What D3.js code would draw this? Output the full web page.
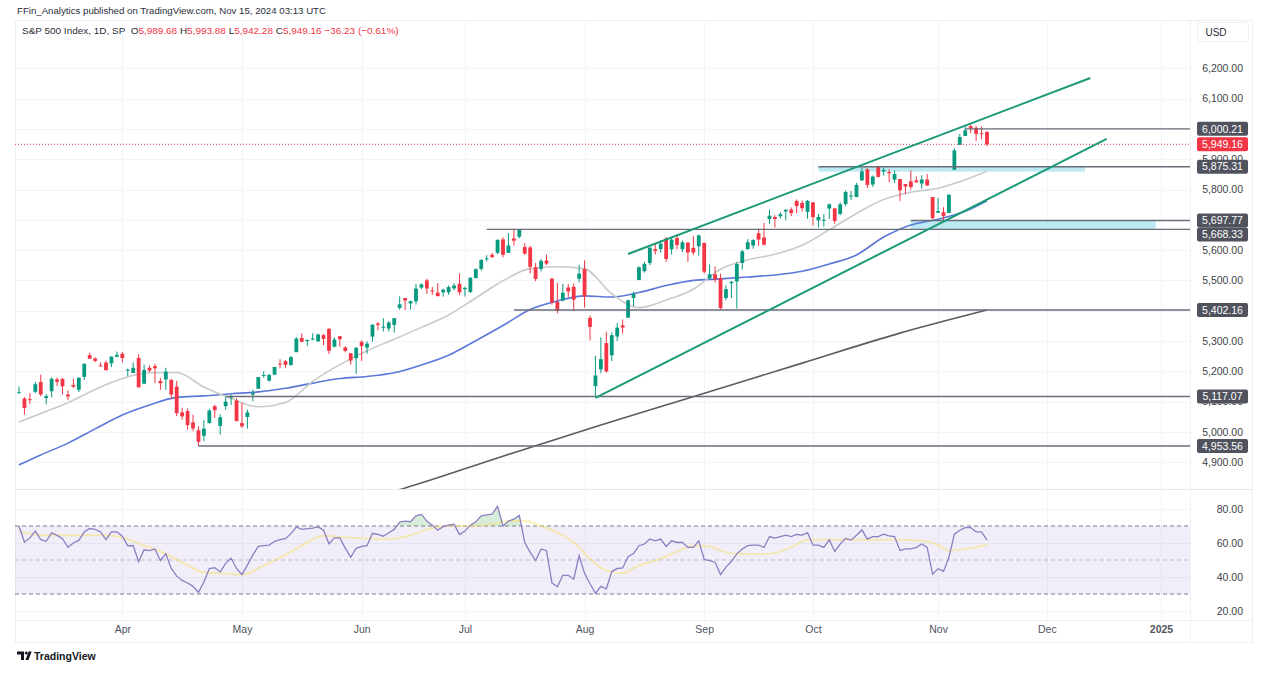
<!DOCTYPE html>
<html><head><meta charset="utf-8">
<script src="https://cdn.jsdelivr.net/npm/d3@7"></script>
<style>
html,body{margin:0;padding:0;background:#fff;}
svg{display:block;font-family:"Liberation Sans","Arial",sans-serif;}
</style></head><body>
<svg id="c" width="1280" height="689"></svg>
<script>
// ---------------- DATA ----------------
const firstDate = "2024-03-04";
const holidays = ["2024-03-29","2024-05-27","2024-06-19","2024-07-04","2024-09-02","2024-11-28","2024-12-25","2025-01-01"];
const monthLabels = ["Apr","May","Jun","Jul","Aug","Sep","Oct","Nov","Dec","2025"];
const monthDates = ["2024-04-01","2024-05-01","2024-06-03","2024-07-01","2024-08-01","2024-09-03","2024-10-01","2024-11-01","2024-12-02","2025-01-02"];
const gridTicks = [4900,5000,5100,5200,5300,5400,5500,5600,5700,5800,5900,6000,6100,6200];
const priceTickLabels = [4900,5000,5100,5200,5300,5500,5600,5800,5900,6100,6200];
const rsiTicks = [20,40,60,80];

const open = [
5131,5110.5,5108,5132.4,5164.5,5112,5134.3,5173.5,5175.1,5123.3,5154.8,5139.1,5181.7,5253.4,5242.5,5219.5,5228.9,5226.3,5248,
5258,5204.3,5194.4,5244,5159,5211.4,5217,5167.9,5173,5171.5,5149.7,5064.6,5069,5031.5,5005.4,4987.3,5028.9,5084.7,5019.9,5084.7,5114.1,5103.8,
5029,5049.3,5122.8,5142.4,5187.2,5169,5189,5225.5,5233.1,5221.1,5263.3,5310.1,5303.1,5305.4,5298.7,5319.3,5340.3,5281.5,5315.9,5278.7,5259.8,5243.2,
5297.2,5278.2,5314.5,5357.8,5343.8,5341.2,5353,5409.1,5441.9,5424.1,5431.1,5476.2,5500,5466.8,5459.6,5460.7,5460.7,5473.6,5488.5,
5471.1,5461.8,5507.4,5537.9,5572.8,5584.2,5591.3,5635.2,5590.8,5638.2,5644.1,5610.1,5608.6,5543.4,5537.8,5565.3,5505.8,5428.7,5433.7,5476.6,5478.7,5505.6,
5537.8,5376.6,5151.1,5206.4,5293.1,5252.6,5314.7,5351.9,5377,5442.1,5501.1,5530.5,5557.2,5602.9,5603.1,5637.8,5602.9,5639.7,5602.9,5624.5,5607.3,5612.7,
5623.9,5506.7,5520.1,5507.3,5442.1,5490.5,5496.4,5557.5,5603.3,5615.2,5655.5,5641.7,5702.6,5709.2,5711.9,5727.5,5733.7,5762.2,5755.4,5726.5,
5757.7,5698.2,5698.8,5737.2,5737.8,5719.1,5751.8,5778.4,5775.1,5829.8,5866.7,5816.6,5875.6,5859.4,5857.8,5832.7,5834.5,5817.8,5826.8,5830.2,5819.7,5832.7,5775.3,
5723.2,5725.2,5722.4,5864.9,5947.2,5976.8,6008.9,6003.6,5985.8,5989.7];
const high = [
5149.7,5114.5,5128,5165.6,5189.3,5124.7,5179.9,5179.1,5176.9,5136.9,5175.6,5180.3,5226.2,5261.1,5246.1,5229.1,5235.2,5249.3,5264.9,
5264,5208.3,5228.8,5256.6,5222.2,5219.6,5224.8,5178.4,5211.8,5175,5168.4,5079.8,5078,5056.7,5019,5038.8,5076.1,5089.5,5057.8,5114.6,5123.5,5110.8,
5096.1,5073.2,5139.1,5181,5200.2,5192,5214.5,5239.7,5237.3,5250.4,5311.8,5325.5,5305.5,5325.3,5324.3,5323.2,5341.9,5311.7,5315.9,5282.3,5260.2,5280.3,
5302.1,5298.8,5354.2,5362.4,5375.1,5365.8,5376,5447.3,5441.9,5432.4,5488.5,5490.4,5505.5,5478.3,5490.7,5472.9,5483.1,5490.8,5523.6,
5479.6,5509.7,5539.3,5570.3,5583.1,5590.8,5635.4,5642.5,5655.6,5666.9,5669.7,5622.5,5614.1,5557.5,5570.4,5585.3,5508,5491.6,5488.3,5487.7,5489.5,5551.5,
5566.2,5383.9,5250.9,5312.3,5330.6,5328,5358.7,5371.2,5436.5,5463.2,5546.2,5562,5608.3,5620.5,5632.7,5643.2,5641.8,5651.6,5631.2,5627,5647,5651.4,
5623.9,5553,5546.3,5522.5,5484.2,5497.9,5560.4,5600.7,5636.3,5636,5670.8,5689.8,5733.6,5715.1,5725.4,5735.3,5741,5767.4,5763.8,5765.1,
5757.7,5719.1,5718.8,5753.4,5739.3,5757.6,5796.8,5795,5822.1,5871.4,5870.4,5846.5,5878.5,5872.2,5866.9,5863,5834.9,5817.8,5862.8,5842.9,5847.2,5850.9,5775.3,
5772.5,5741.4,5783.4,5936.1,5983.8,6012.5,6017.3,6009.9,6008.2,5993.9];
const low = [
5127.2,5056.8,5092.2,5128.2,5117.5,5091.1,5114.5,5151.9,5123.3,5104.4,5145.5,5131.6,5171.6,5240.7,5229.9,5216.1,5203.4,5213.9,5245.8,
5229.2,5184,5194.4,5146.1,5157.2,5197.4,5160.8,5138.7,5138.8,5107.9,5052.5,5039.8,5007.3,5001.9,4953.6,4969.4,5028,5047,4990.6,5073.1,5088.7,5035.3,
5013.5,5011.1,5101.2,5142.4,5179,5165.9,5187.2,5209.7,5211.2,5218,5263.3,5296.2,5283.6,5302.4,5297.9,5286,5256.9,5278.4,5280.9,5262.7,5222.1,5191.7,
5234.3,5257.6,5297.6,5335.4,5331.3,5331.5,5327.3,5403.4,5402.5,5403.8,5420.4,5471.3,5455.6,5452,5447.6,5446.6,5451.9,5467.5,5451.1,
5446.5,5458.4,5507.4,5531.6,5562.5,5574.6,5586.4,5576.5,5590.4,5614.8,5639,5584.8,5522.8,5497,5529,5550.9,5420,5391,5430.7,5444.4,5398.4,5493.8,
5410.4,5302,5119.3,5193.6,5195.5,5233.9,5300,5324.4,5377,5415.1,5501.1,5525.2,5550.7,5585.5,5591.6,5561,5585.2,5602.3,5593.5,5561,5583.7,5581.8,
5521.9,5503.7,5493.3,5402.6,5434.5,5441.7,5407,5535.5,5601.7,5604.5,5614.1,5615.1,5686.4,5674.5,5704.2,5699,5712.1,5721,5727.3,5703.5,
5681.3,5674,5677.4,5702.8,5686.9,5714.6,5745,5764.8,5775.1,5829.8,5804.5,5808.3,5840.3,5846.1,5824.5,5821.2,5762.4,5784.9,5800,5823.1,5802.4,5811.3,5702.9,
5723.2,5696.5,5722.1,5864.9,5947.2,5976.8,5986.7,5960.1,5965.9,5942.3];
const close = [
5131,5078.7,5104.8,5157.4,5123.7,5117.9,5175.3,5165.3,5150.5,5117.1,5149.4,5178.5,5224.6,5241.5,5234.2,5218.2,5203.6,5248.5,5254.4,
5243.8,5205.8,5211.5,5147.2,5204.3,5202.4,5209.9,5160.6,5199.1,5123.4,5061.8,5051.4,5022.2,5011.1,4967.2,5010.6,5070.6,5071.6,5048.4,5100,5116.2,5035.7,
5018.4,5064.2,5127.8,5180.7,5187.7,5187.7,5214.1,5222.7,5221.4,5246.7,5308.2,5297.1,5303.3,5308.1,5321.4,5307,5267.8,5304.7,5306,5267,5235.5,5277.5,
5283.4,5291.3,5354,5353,5347,5360.8,5375.3,5421,5433.7,5431.6,5473.2,5487,5473.2,5464.6,5447.9,5469.3,5477.9,5482.9,5460.5,
5475.1,5509,5537,5567.2,5572.9,5577,5633.9,5584.5,5615.4,5631.2,5667.2,5588.3,5544.6,5505,5564.4,5555.7,5427.1,5399.2,5459.1,5463.5,5436.4,5522.3,
5446.7,5346.6,5186.3,5240,5199.5,5319.3,5344.2,5344.4,5434.4,5455.2,5543.2,5554.3,5608.3,5597.1,5620.9,5570.6,5634.6,5616.8,5625.8,5592.2,5592,5648.4,
5528.9,5520.1,5503.4,5408.4,5471.1,5495.5,5554.1,5595.8,5626,5633.1,5634.6,5618.3,5713.6,5702.6,5718.6,5732.9,5722.3,5745.4,5738.2,5762.5,
5708.8,5709.5,5699.9,5751.1,5695.9,5751.1,5792,5780.1,5815,5859.9,5815.3,5842.5,5841.5,5864.7,5854,5851.2,5797.4,5809.9,5808.1,5823.5,5832.9,5813.7,5705.5,
5728.8,5712.7,5782.8,5929,5973.1,5995.5,6001.4,5984,5985.4,5949.2];

// moving averages (bar index, value)
const ma20Idx = [0,4,9,14,19,24,29,34,39,44,49,54,59,64,69,74,79,84,89,94,99,104,109,114,119,124,129,134,139,144,149,154,159,164,169,174,178];
const ma20Val = [5032,5061,5096,5140,5176,5195,5196,5148,5110,5083,5097,5167,5222,5268,5306,5345,5386,5442,5499,5539,5545,5538,5456,5410,5435,5471,5537,5568,5586,5616,5667,5721,5767,5791,5804,5832,5860];
const ma50Idx = ma20Idx;
const ma50Val = [4891,4924,4963,5010,5056,5089,5114,5119,5126,5132,5144,5161,5176,5183,5195,5221,5253,5301,5351,5404,5432,5449,5445,5460,5483,5500,5505,5511,5518,5530,5554,5584,5643,5683,5702,5728,5763];
const ma200Idx = [55,71,88,107,122,144,162,178];
const ma200Val = [4740,4815,4914,5023,5105,5227,5326,5402];

// RSI(14) per bar and its moving average
const rsi = [
70,60.5,63,67,62,61,66,64.5,62.5,57.5,60,61.5,66.5,68.5,68,66.5,62,66.5,66.5,64,
58.4,58.5,49,56,55.5,56.5,49.7,53.6,45,40.5,38,36.5,34.5,31,37,45,45.5,43,48,51,
45,41.4,47,53,58,58.5,58.8,61,62,62.5,65.5,69.4,68,68.5,68.8,69.5,67.5,59.5,63,63,
57,51.6,56.9,58,58.5,65.7,65,64,66,68,72.3,72.9,72.5,76,76.8,72.9,70.5,67.5,69.6,70.5,
71,65,67,70.5,72.5,76,76.5,77,81.6,70,72.9,74,76.2,60.3,54.5,49.7,56.5,55.5,36.5,34.3,
41,41,38.7,52.6,42,36,30.4,34.5,33,43.2,45,45.3,52,53.8,58.4,59.4,62.3,61.3,62.3,58,
61.3,60.3,60.3,57.4,57.4,61.3,50.3,49.7,48.7,41.4,45.8,49.1,53.6,56.5,58.4,58.8,58.8,57.4,63.8,62.9,
63.8,64.6,63.8,65,64.6,66.1,58.8,58.8,57.4,61.9,55,59.4,62.7,61.7,64.6,67.7,62.3,63.8,63.8,65.2,
64.2,63.8,55.6,56.5,56.5,57.4,59.4,57.4,41.6,44.9,43.3,51.6,65.2,67.5,69,69,66.5,66.5,61.7];
const rsiMaIdx = [0,4,9,12,16,19,23,27,31,34,38,41,45,49,53,56,60,64,68,72,75,79,83,87,90,93,96,99,102,105,108,111,114,117,121,124,127,129,132,135,138,142,145,149,156,161,166,169,171,174,178];
const rsiMaVal = [67,64.6,64.6,64.6,64.6,63.2,58.4,53.6,46.8,42.6,42,41.4,46.8,53,60.3,64.2,63.2,62.7,62.3,64.6,68,70,70,71,72.9,72.9,70,66,60.3,50.7,43.9,42.3,46.8,49.7,55,58.4,58,55.5,53.6,53.6,53.6,57.4,61.9,61.9,61.9,61.9,61.3,58.8,55.5,56.5,58.8];

// drawings
const levelVals = [6000.21,5875.31,5697.77,5668.33,5402.16,5117.07,4953.56];
const levelStart = [174,147,164,86,91,38,33];
const channelUpper = [[112,5587],[197,6168]];
const channelLower = [[106,5112],[200,5967]];
const zoneBars = [[147,196],[164,209]];
const zoneVals = [[5875.31,5859],[5697.77,5668.33]];
const lastPrice = 5949.16;

// ---------------- LAYOUT ----------------
const svg = d3.select("#c");
const FONT = "Liberation Sans, Arial, sans-serif";
const PL = 15, PR = 1190, MT = 20, MB = 489, RT = 490, RB = 620;
const nBars = close.length;

const hol = new Set(holidays);
const dates = [];
{ let d = new Date(firstDate + "T00:00:00Z");
  while (dates.length < 240) {
    const s = d.toISOString().slice(0,10), wd = d.getUTCDay();
    if (wd !== 0 && wd !== 6 && !hol.has(s)) dates.push(s);
    d.setUTCDate(d.getUTCDate() + 1);
  } }
const monthIdx = monthDates.map(s => dates.indexOf(s));

const x = d3.scaleLinear().domain([0, nBars - 1]).range([19, 987]);
const y = d3.scaleLinear().domain([4900, 6200]).range([462.2, 68.3]);
const yr = d3.scaleLinear().domain([20, 80]).range([611, 509]);

const defs = svg.append("defs");
defs.append("clipPath").attr("id","clipMain").append("rect").attr("x",PL).attr("y",MT).attr("width",PR-PL).attr("height",MB-MT);
defs.append("clipPath").attr("id","clipRsi").append("rect").attr("x",PL).attr("y",RT).attr("width",PR-PL).attr("height",RB-RT);
defs.append("clipPath").attr("id","clipOB").append("rect").attr("x",PL).attr("y",RT).attr("width",PR-PL).attr("height",yr(70)-RT);
defs.append("clipPath").attr("id","clipOS").append("rect").attr("x",PL).attr("y",yr(30)).attr("width",PR-PL).attr("height",RB-yr(30));

// frame
svg.append("rect").attr("x",15.5).attr("y",20.5).attr("width",1237).attr("height",622).attr("fill","none").attr("stroke","#eef0f4");
svg.append("line").attr("x1",PR+0.5).attr("x2",PR+0.5).attr("y1",20).attr("y2",643).attr("stroke","#eef0f4");
svg.append("line").attr("x1",PL).attr("x2",1252).attr("y1",MB+0.5).attr("y2",MB+0.5).attr("stroke","#e6e8ee");
svg.append("line").attr("x1",PL).attr("x2",1252).attr("y1",RB+0.5).attr("y2",RB+0.5).attr("stroke","#eef0f4");

// grid
const grid = svg.append("g");
grid.selectAll(".hg").data(gridTicks).join("line").attr("x1",PL).attr("x2",PR)
  .attr("y1",d=>Math.round(y(d))+0.5).attr("y2",d=>Math.round(y(d))+0.5).attr("stroke","#f3f4f7");
grid.selectAll(".vg").data(monthIdx).join("line").attr("y1",MT).attr("y2",RB)
  .attr("x1",d=>Math.round(x(d))+0.5).attr("x2",d=>Math.round(x(d))+0.5).attr("stroke","#f3f4f7");
grid.selectAll(".rg").data(rsiTicks).join("line").attr("x1",PL).attr("x2",PR)
  .attr("y1",d=>Math.round(yr(d))+0.5).attr("y2",d=>Math.round(yr(d))+0.5).attr("stroke","#f3f4f7");

// ---------------- MAIN PANE ----------------
const main = svg.append("g").attr("clip-path","url(#clipMain)");

main.selectAll(".zone").data(zoneBars).join("rect")
  .attr("x",d=>x(d[0])).attr("width",d=>x(d[1])-x(d[0]))
  .attr("y",(d,i)=>y(zoneVals[i][0])).attr("height",(d,i)=>y(zoneVals[i][1])-y(zoneVals[i][0]))
  .attr("fill","#b9e8f1").attr("opacity",0.95);

const maLine = d3.line().x(d=>x(d[0])).y(d=>y(d[1])).curve(d3.curveMonotoneX);
main.append("path").datum(ma200Idx.map((d,i)=>[d,ma200Val[i]])).attr("d",maLine)
  .attr("fill","none").attr("stroke","#5c5c5c").attr("stroke-width",1.6);
main.append("path").datum(ma50Idx.map((d,i)=>[d,ma50Val[i]])).attr("d",maLine)
  .attr("fill","none").attr("stroke","#5b78d8").attr("stroke-width",1.6);
main.append("path").datum(ma20Idx.map((d,i)=>[d,ma20Val[i]])).attr("d",maLine)
  .attr("fill","none").attr("stroke","#cacaca").attr("stroke-width",1.6);

const UP = "#089981", DN = "#f23645";
const bars = d3.range(nBars);
const cg = main.append("g");
cg.selectAll(".wick").data(bars).join("line")
  .attr("x1",i=>x(i)).attr("x2",i=>x(i)).attr("y1",i=>y(high[i])).attr("y2",i=>y(low[i]))
  .attr("stroke",i=>close[i]>=open[i]?UP:DN).attr("stroke-width",1);
cg.selectAll(".body").data(bars).join("rect")
  .attr("x",i=>x(i)-1.9).attr("width",3.8)
  .attr("y",i=>y(Math.max(open[i],close[i])))
  .attr("height",i=>Math.max(1,y(Math.min(open[i],close[i]))-y(Math.max(open[i],close[i]))))
  .attr("fill",i=>close[i]>=open[i]?UP:DN);

main.append("line").attr("x1",PL).attr("x2",PR).attr("y1",y(lastPrice)).attr("y2",y(lastPrice))
  .attr("stroke","#f23645").attr("stroke-width",1).attr("stroke-dasharray","1,2");

main.selectAll(".lvl").data(levelVals).join("line")
  .attr("x1",(d,i)=>x(levelStart[i])).attr("x2",PR)
  .attr("y1",d=>y(d)).attr("y2",d=>y(d))
  .attr("stroke","#6a6d78").attr("stroke-width",1.4);

const chLine = d3.line().x(d=>x(d[0])).y(d=>y(d[1]));
[channelUpper, channelLower].forEach(c=>{
  main.append("path").attr("d",chLine(c)).attr("fill","none").attr("stroke","#1b9a78").attr("stroke-width",2);
});

// ---------------- RSI PANE ----------------
const rp = svg.append("g").attr("clip-path","url(#clipRsi)");
rp.append("rect").attr("x",PL).attr("width",PR-PL).attr("y",yr(70)).attr("height",yr(30)-yr(70)).attr("fill","rgba(126,87,194,0.10)");
[70,50,30].forEach(v=>{
  rp.append("line").attr("x1",PL).attr("x2",PR).attr("y1",yr(v)).attr("y2",yr(v))
    .attr("stroke", v===50 ? "rgba(120,123,134,0.45)" : "#787b86").attr("stroke-dasharray","4,3").attr("stroke-width",1);
});
const rsiPts = rsi.map((v,i)=>[i,v]);
const rsiArea70 = d3.area().x(d=>x(d[0])).y0(yr(70)).y1(d=>yr(d[1]));
const rsiArea30 = d3.area().x(d=>x(d[0])).y0(yr(30)).y1(d=>yr(d[1]));
rp.append("path").attr("d",rsiArea70(rsiPts)).attr("clip-path","url(#clipOB)").attr("fill","rgba(76,175,80,0.22)");
rp.append("path").attr("d",rsiArea30(rsiPts)).attr("clip-path","url(#clipOS)").attr("fill","rgba(242,54,69,0.2)");
rp.append("path").datum(rsiMaIdx.map((d,i)=>[d,rsiMaVal[i]]))
  .attr("d",d3.line().x(d=>x(d[0])).y(d=>yr(d[1])).curve(d3.curveMonotoneX))
  .attr("fill","none").attr("stroke","rgba(246,224,110,0.5)").attr("stroke-width",2);
rp.append("path").datum(rsiPts).attr("d",d3.line().x(d=>x(d[0])).y(d=>yr(d[1])))
  .attr("fill","none").attr("stroke","#8a7fc0").attr("stroke-width",1.3);

// ---------------- AXES ----------------
function styleAxis(g, col){
  g.select(".domain").remove();
  g.selectAll("text").attr("font-size",10.5).attr("fill",col).attr("font-family",FONT);
}
const pAx = svg.append("g").attr("transform","translate(1243,0)")
  .call(d3.axisLeft(y).tickValues(priceTickLabels).tickFormat(d3.format(",.2f")).tickSize(0).tickPadding(0));
styleAxis(pAx, "#3c3f48");

const rAx = svg.append("g").attr("transform","translate(1243,0)")
  .call(d3.axisLeft(yr).tickValues(rsiTicks).tickFormat(d3.format(".2f")).tickSize(0).tickPadding(0));
styleAxis(rAx, "#3c3f48");

const tAx = svg.append("g").attr("transform","translate(0,626)")
  .call(d3.axisBottom(x).tickValues(monthIdx).tickFormat((d,i)=>monthLabels[i]).tickSize(0).tickPadding(0));
styleAxis(tAx, "#50535e");
tAx.selectAll("text").attr("font-weight",(d,i)=>monthLabels[i]==="2025"?700:400);

// level labels on price axis (stacked so boxes never overlap, as TradingView does)
const labelData = levelVals.map(v=>({v, fill:"#50535e"})).concat([{v:lastPrice, fill:"#f23645"}])
  .sort((a,b)=>y(a.v)-y(b.v));
let prevBottom = -Infinity;
labelData.forEach(d=>{ d.top = Math.max(y(d.v)-7, prevBottom); prevBottom = d.top + 14; });
const lbl = svg.append("g");
lbl.selectAll("rect").data(labelData).join("rect")
  .attr("x",1197).attr("width",51).attr("y",d=>d.top).attr("height",14).attr("rx",2).attr("fill",d=>d.fill);
lbl.selectAll("text").data(labelData).join("text")
  .attr("x",1222.5).attr("y",d=>d.top+7).attr("dy","0.36em").attr("text-anchor","middle")
  .attr("font-size",10.5).attr("fill","#ffffff").text(d=>d3.format(",.2f")(d.v));

// USD box
svg.append("rect").attr("x",1197.5).attr("y",22.5).attr("width",51).attr("height",19).attr("rx",3)
  .attr("fill","#fff").attr("stroke","#eceef2");
svg.append("text").attr("x",1216).attr("y",32).attr("dy","0.35em").attr("text-anchor","middle")
  .attr("font-size",10).attr("fill","#2a2e39").text("USD");

// header texts, fitted to reference widths
function fit(sel, target){
  const w = sel.node().getComputedTextLength();
  const fs = parseFloat(sel.attr("font-size"));
  sel.attr("font-size", (fs*target/w).toFixed(2));
}
const hdr = svg.append("text").attr("x",17).attr("y",11).attr("dy","0.35em").attr("font-size",11).attr("fill","#2a2e39")
  .text("FFin_Analytics published on TradingView.com, Nov 15, 2024 03:13 UTC");
fit(hdr, 309);
const leg = svg.append("text").attr("x",22).attr("y",31).attr("dy","0.35em").attr("font-size",10).attr("fill","#2a2e39");
const legParts = [["S&P 500 Index, 1D, SP  ","#2a2e39"],["O","#2a2e39"],["5,989.68 ","#f23645"],["H","#2a2e39"],["5,993.88 ","#f23645"],
  ["L","#2a2e39"],["5,942.28 ","#f23645"],["C","#2a2e39"],["5,949.16 ","#f23645"],["\u221236.23 (\u22120.61%)","#f23645"]];
leg.selectAll("tspan").data(legParts).join("tspan").attr("fill",d=>d[1]).attr("xml:space","preserve").text(d=>d[0]);
fit(leg, 377);

// TradingView logo
const lg = svg.append("g").attr("fill","#131722");
lg.append("path").attr("d","M17,651.5 h7 v8.5 h-3 v-5.5 h-4 z");
lg.append("circle").attr("cx",26.3).attr("cy",653).attr("r",1.5);
lg.append("path").attr("d","M25.5,660 l3.2,-8.5 h3 l-3.2,8.5 z");
svg.append("text").attr("x",34).attr("y",656).attr("dy","0.35em").attr("font-size",10.5).attr("font-weight",600)
  .attr("fill","#131722").text("TradingView");
</script>
</body></html>
